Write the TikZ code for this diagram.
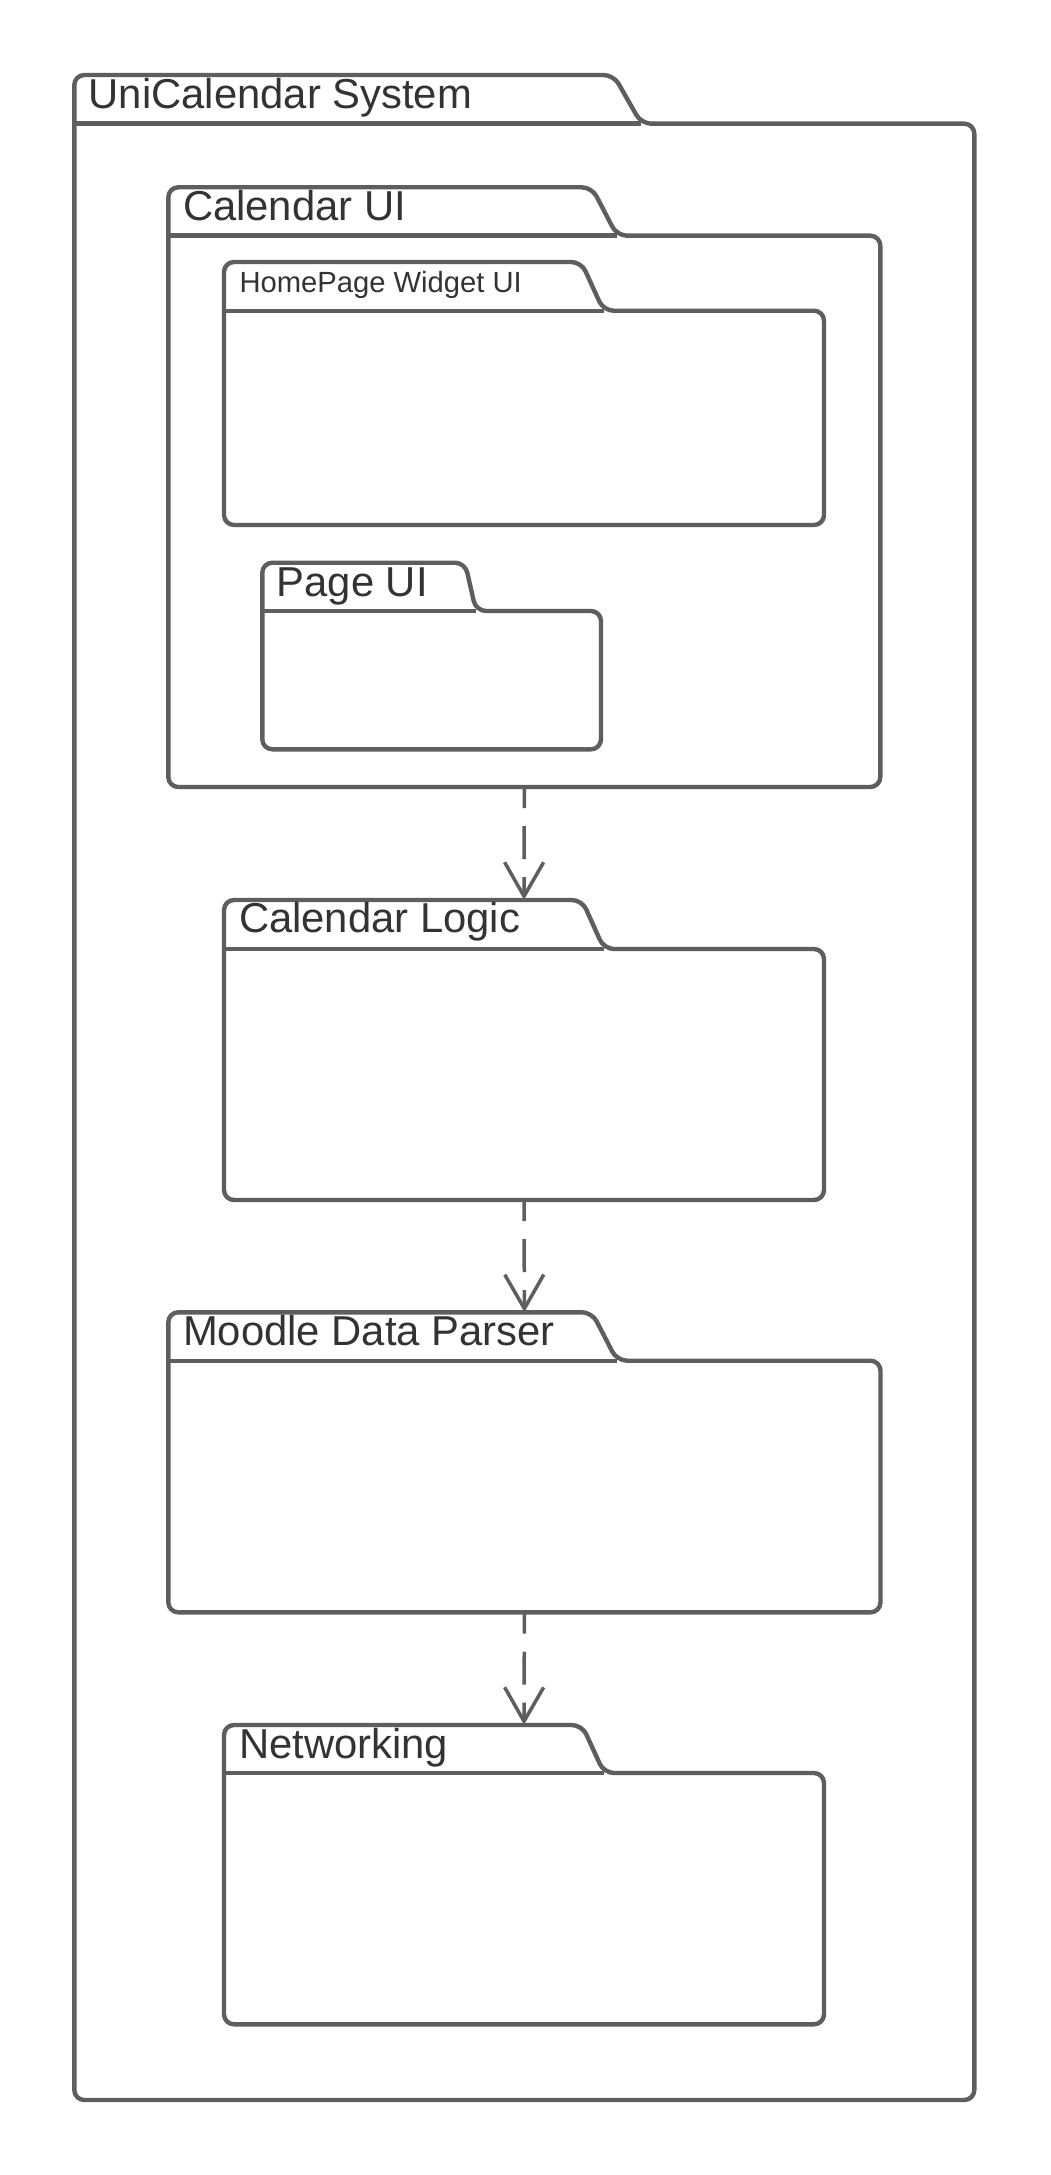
\documentclass[tikz,border=0pt]{standalone}
\usepackage{fontspec}
\setmainfont{Liberation Sans}
\usetikzlibrary{arrows.meta,fit}

\definecolor{pkgline}{HTML}{5E5E5E}
\definecolor{pkgtext}{HTML}{333333}

\tikzset{
  pkg/.style={draw=pkgline, line width=4.4pt, rounded corners=10pt, line join=round},
  pkgtab/.style={draw=pkgline, line width=4.4pt},
  pkgarea/.style={draw=none, inner sep=0pt},
  pkglabel/.style={anchor=base west, inner sep=0pt, text=pkgtext, font=\fontsize{41.8}{48}\selectfont},
  pkgsmall/.style={pkglabel, font=\fontsize{29.2}{35}\selectfont},
  depends/.style={draw=pkgline, line width=3.5pt, dash pattern={on 33pt off 18pt}, dash phase=12pt,
    -{Straight Barb[length=34pt,width=39pt]}}
}

\begin{document}
\begin{tikzpicture}[x=1pt,y=1pt,yscale=-1,xscale=1]
\fill[white] (0,0) rectangle (1050,2175);
\useasboundingbox (0,0) rectangle (1050,2175);

%Shape: Package [UniCalendar System]
\node[pkgarea, fit={(74.3,75) (974.3,2100)}] (system) {};
\draw[pkg] (524.3,2100) -- (74.3,2100) -- (74.3,75) -- (613.6,75) -- (641.3,123.7) -- (974.3,123.7) -- (974.3,2100) -- cycle;
\draw[pkgtab] (74.3,123.7) -- (641.3,123.7);

%Shape: Package [Calendar UI]
\node[pkgarea, fit={(168.3,187.3) (880.3,787)}] (calui) {};
\draw[pkg] (524.3,787) -- (168.3,787) -- (168.3,187.3) -- (591.8,187.3) -- (617,235.7) -- (880.3,235.7) -- (880.3,787) -- cycle;
\draw[pkgtab] (168.3,235.7) -- (617,235.7);

%Shape: Package [HomePage Widget UI]
\node[pkgarea, fit={(224,262) (824,525)}] (widgetui) {};
\draw[pkg] (524,525) -- (224,525) -- (224,262) -- (581.3,262) -- (603.5,310.7) -- (824,310.7) -- (824,525) -- cycle;
\draw[pkgtab] (224,310.7) -- (603.5,310.7);

%Shape: Package [Page UI]
\node[pkgarea, fit={(262.3,562.7) (601,749.3)}] (pageui) {};
\draw[pkg] (431,749.3) -- (262.3,749.3) -- (262.3,562.7) -- (465,562.7) -- (476,611) -- (601,611) -- (601,749.3) -- cycle;
\draw[pkgtab] (262.3,611) -- (476,611);

%Shape: Package [Calendar Logic]
\node[pkgarea, fit={(224,900) (824,1200)}] (logic) {};
\draw[pkg] (524,1200) -- (224,1200) -- (224,900) -- (582,900) -- (604,949) -- (824,949) -- (824,1200) -- cycle;
\draw[pkgtab] (224,949) -- (604,949);

%Shape: Package [Moodle Data Parser]
\node[pkgarea, fit={(168.3,1312.3) (880.5,1612.3)}] (parser) {};
\draw[pkg] (524.3,1612.3) -- (168.3,1612.3) -- (168.3,1312.3) -- (592,1312.3) -- (617,1360.7) -- (880.5,1360.7) -- (880.5,1612.3) -- cycle;
\draw[pkgtab] (168.3,1360.7) -- (617,1360.7);

%Shape: Package [Networking]
\node[pkgarea, fit={(224,1725) (824,2024.3)}] (network) {};
\draw[pkg] (524,2024.3) -- (224,2024.3) -- (224,1725) -- (582,1725) -- (604,1773) -- (824,1773) -- (824,2024.3) -- cycle;
\draw[pkgtab] (224,1773) -- (604,1773);

%Straight Lines: dependencies
\draw[depends] (calui.south) -- (logic.north);
\draw[depends] (logic.south) -- (parser.north);
\draw[depends] (parser.south) -- (network.north);

% Text Node
\node[pkglabel] (system-label) at (88.6,108.3) {UniCalendar System};
% Text Node
\node[pkglabel] (calui-label) at (182.8,220.7) {Calendar UI};
% Text Node
\node[pkgsmall] (widgetui-label) at (239.3,292.3) {HomePage Widget UI};
% Text Node
\node[pkglabel] (pageui-label) at (276.6,596) {Page UI};
% Text Node
\node[pkglabel] (logic-label) at (238.8,932.3) {Calendar Logic};
% Text Node
\node[pkglabel] (parser-label) at (182.8,1345.7) {Moodle Data Parser};
% Text Node
\node[pkglabel] (network-label) at (238.8,1758.3) {Networking};

\end{tikzpicture}
\end{document}
